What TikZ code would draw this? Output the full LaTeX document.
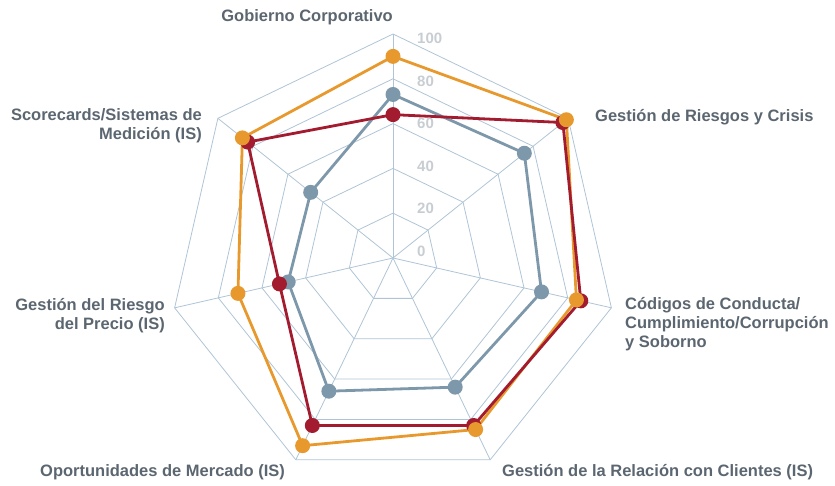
\documentclass[tikz,border=0pt]{standalone}
\usepackage{fontspec}
\setmainfont{Liberation Sans}
\usetikzlibrary{positioning}

\definecolor{gridblue}{HTML}{AFC5D6}
\definecolor{seriesorange}{HTML}{E8992E}
\definecolor{seriesred}{HTML}{A21B2E}
\definecolor{seriesgray}{HTML}{7E98AB}
\definecolor{labelgray}{HTML}{5B6670}
\definecolor{ticklight}{HTML}{C8CDD2}

\tikzset{
  gridline/.style={draw=gridblue, line width=0.8pt, line join=miter},
  series/.style={line width=2.8pt, line join=round},
  dot/.style={circle, inner sep=0pt, minimum size=15pt},
  axislabel/.style={font=\fontsize{16.5}{19}\selectfont\bfseries, text=labelgray, inner sep=0pt},
  ticklabel/.style={font=\fontsize{15}{18}\selectfont\bfseries, text=ticklight, inner sep=0pt, anchor=west},
}

\begin{document}
\begin{tikzpicture}[x=1pt,y=1pt]
  \useasboundingbox (0,0) rectangle (835,486);

  \begin{scope}[shift={(393,228)}]
    % web
    \foreach \r in {20,40,...,100}
      \draw[gridline] (90:{\r*2.24})
        \foreach \i in {1,...,6} { -- ({90-\i*360/7}:{\r*2.24}) } -- cycle;
    \foreach \i in {0,...,6}
      \draw[gridline] (0,0) -- ({90-\i*360/7}:224);

    % data points
    \foreach \v [count=\i] in {90,99,84,85,93,71,86}
      \coordinate (orange-\i) at ({90-(\i-1)*360/7}:{\v*2.24});
    \foreach \v [count=\i] in {64,97,86,83,83,52,83}
      \coordinate (red-\i) at ({90-(\i-1)*360/7}:{\v*2.24});
    \foreach \v [count=\i] in {73,75,68,64,66,48,47}
      \coordinate (gray-\i) at ({90-(\i-1)*360/7}:{\v*2.24});

    \draw[series, seriesgray] (gray-1) \foreach \i in {2,...,7} { -- (gray-\i) } -- cycle;
    \draw[series, seriesorange] (orange-1) \foreach \i in {2,...,7} { -- (orange-\i) } -- cycle;
    \draw[series, seriesred] (red-1) \foreach \i in {2,...,7} { -- (red-\i) } -- cycle;

    \foreach \i in {1,...,7} {
      \node[dot, fill=seriesgray] (gray dot \i) at (gray-\i) {};
      \node[dot, fill=seriesred] (red dot \i) at (red-\i) {};
      \node[dot, fill=seriesorange] (orange dot \i) at (orange-\i) {};
    }
  \end{scope}

  % scale
  \foreach \v in {0,20,...,100}
    \node[ticklabel] (tick \v) at (417,{235+2.1225*\v}) {\v};

  % axis names (base = last line)
  \node[axislabel, anchor=base east] (gobierno) at (393,464) {Gobierno Corporativo};
  \node[axislabel, anchor=base west] (riesgos) at (595,364) {Gestión de Riesgos y Crisis};
  \node[axislabel, anchor=base west, align=left] (codigos) at (625,138)
    {Códigos de Conducta/\\Cumplimiento/Corrupción\\y Soborno};
  \node[axislabel, anchor=base west] (relacion) at (502,9) {Gestión de la Relación con Clientes (IS)};
  \node[axislabel, anchor=base west] (mercado) at (40,9) {Oportunidades de Mercado (IS)};
  \node[axislabel, anchor=base east, align=right] (precio) at (165,156)
    {Gestión del Riesgo\\del Precio (IS)};
  \node[axislabel, anchor=base east, align=right] (scorecards) at (202,346)
    {Scorecards/Sistemas de\\Medición (IS)};
\end{tikzpicture}
\end{document}
